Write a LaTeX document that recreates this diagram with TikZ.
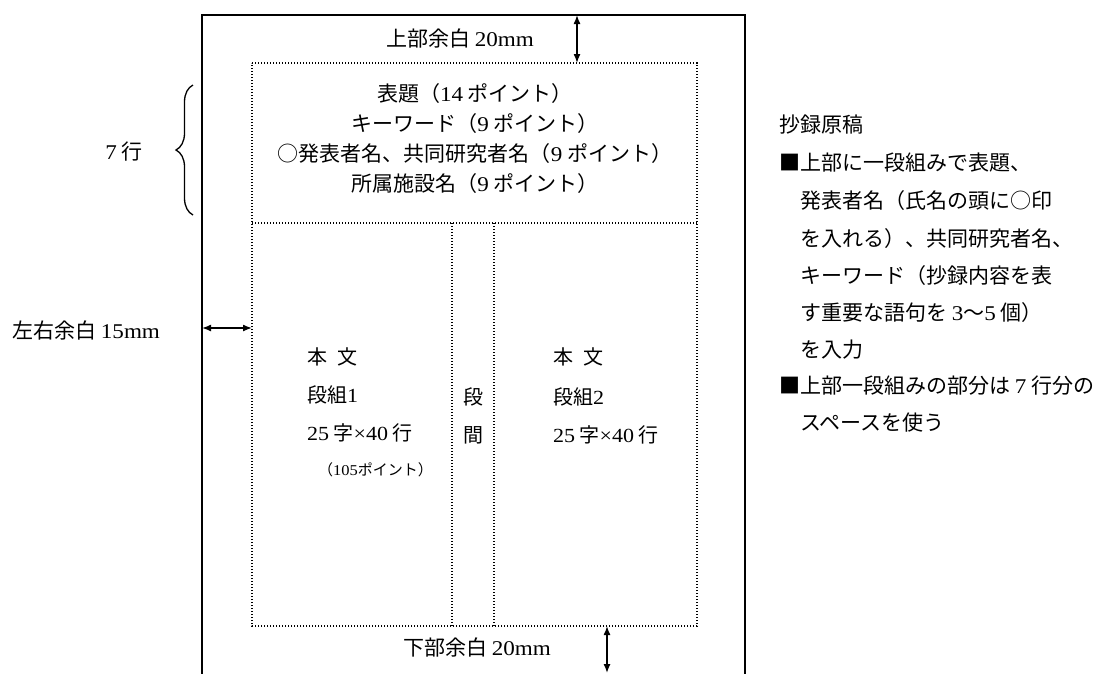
\documentclass[tikz,border=0pt]{standalone}
\usepackage{fontspec}
\setmainfont{Liberation Serif}
\newfontfamily\jp{Noto Sans CJK JP}
\newfontfamily\latf{Liberation Serif}[FakeStretch=1.1]
\usetikzlibrary{arrows.meta,decorations.pathreplacing}
\newcommand\lat[1]{{\latf #1}}
\begin{document}
\begin{tikzpicture}[x=1pt,y=-1pt,
  tx/.style={font=\jp\fontsize{21}{25}\selectfont, inner sep=0pt, text=black},
  coltx/.style={font=\jp\fontsize{20}{24}\selectfont, inner sep=0pt, text=black},
  smalltx/.style={font=\jp\fontsize{15}{18}\selectfont, inner sep=0pt, text=black},
  pageline/.style={line width=2pt, black},
  dotline/.style={line width=1.4pt, black, dash pattern=on 1.3pt off 1.7pt},
  dimarrow/.style={line width=1.4pt, black, {Latex[length=9pt,width=7pt]}-{Latex[length=9pt,width=7pt]}},
  bracestyle/.style={line width=1.3pt, black, decorate, decoration={brace, amplitude=17pt}}
]
\useasboundingbox (0,0) rectangle (1107,673);
\fill[white] (0,0) rectangle (1107,673);
\clip (0,0) rectangle (1107,673);

% page outline (bottom edge is outside the picture)
\coordinate (pBL) at (202,690);
\coordinate (pTL) at (202,15);
\coordinate (pTR) at (745,15);
\coordinate (pBR) at (745,690);
\draw[pageline] (pBL) -- (pTL) -- (pTR) -- (pBR);

% text area (dotted)
\coordinate (bTL) at (252,63);
\coordinate (bTR) at (697,63);
\coordinate (bBL) at (252,626);
\coordinate (bBR) at (697,626);
\coordinate (sL) at (252,223);
\coordinate (sR) at (697,223);
\coordinate (g1T) at (452,223);
\coordinate (g1B) at (452,626);
\coordinate (g2T) at (494,223);
\coordinate (g2B) at (494,626);
\draw[dotline] (bTL) -- (bTR) -- (bBR) -- (bBL) -- cycle;
\draw[dotline] (sL) -- (sR);
\draw[dotline] (g1T) -- (g1B);
\draw[dotline] (g2T) -- (g2B);

% margin arrows
\coordinate (tA) at (577,15);
\coordinate (tB) at (577,63);
\draw[dimarrow] (tA) -- (tB);
\coordinate (lA) at (202,328);
\coordinate (lB) at (252,328);
\draw[dimarrow] (lA) -- (lB);
\coordinate (dA) at (607,626);
\coordinate (dB) at (607,673);
\draw[dimarrow] (dA) -- (dB);

% margin labels
\node[tx] (topm) at (460,38) {上部余白 \lat{20mm}};
\node[tx] (botm) at (477,647) {下部余白 \lat{20mm}};
\node[tx, anchor=west] (sidem) at (12,330) {左右余白 \lat{15mm}};

% brace + 7 lines
\coordinate (brB) at (193,215);
\coordinate (brT) at (193,85);
\draw[bracestyle] (brB) -- (brT);
\node[tx] (seven) at (124,152) {\lat{7} 行};

% title block
\node[tx] (t1) at (475,94) {表題（\lat{14} ポイント）};
\node[tx] (t2) at (475,124) {キーワード（\lat{9} ポイント）};
\node[tx] (t3) at (475,154) {○発表者名、共同研究者名（\lat{9} ポイント）};
\node[tx] (t4) at (475,184) {所属施設名（\lat{9} ポイント）};

% column 1
\node[coltx, anchor=west] (c1a) at (307,357) {本\hspace{0.5em}文};
\node[coltx, anchor=west] (c1b) at (307,395) {段組\lat{1}};
\node[coltx, anchor=west] (c1c) at (307,433) {\lat{25} 字\lat{×40} 行};
\node[smalltx, anchor=west] (c1d) at (318,470) {（\lat{105}ポイント）};

% gap
\node[coltx] (gap1) at (473,397) {段};
\node[coltx] (gap2) at (473,435) {間};

% column 2
\node[coltx, anchor=west] (c2a) at (553,357) {本\hspace{0.5em}文};
\node[coltx, anchor=west] (c2b) at (553,397) {段組\lat{2}};
\node[coltx, anchor=west] (c2c) at (553,435) {\lat{25} 字\lat{×40} 行};

% right notes
\node[tx, anchor=west] (n0) at (779,125) {抄録原稿};
\node[tx, anchor=west] (n1) at (779,163) {■上部に一段組みで表題、};
\node[tx, anchor=west] (n2) at (800,201) {発表者名（氏名の頭に○印};
\node[tx, anchor=west] (n3) at (800,239) {を入れる）、共同研究者名、};
\node[tx, anchor=west] (n4) at (800,276) {キーワード（抄録内容を表};
\node[tx, anchor=west] (n5) at (800,313) {す重要な語句を \lat{3}〜\lat{5} 個）};
\node[tx, anchor=west] (n6) at (800,350) {を入力};
\node[tx, anchor=west] (n7) at (779,386) {■上部一段組みの部分は \lat{7} 行分の};
\node[tx, anchor=west] (n8) at (800,423) {スペースを使う};
\end{tikzpicture}
\end{document}
